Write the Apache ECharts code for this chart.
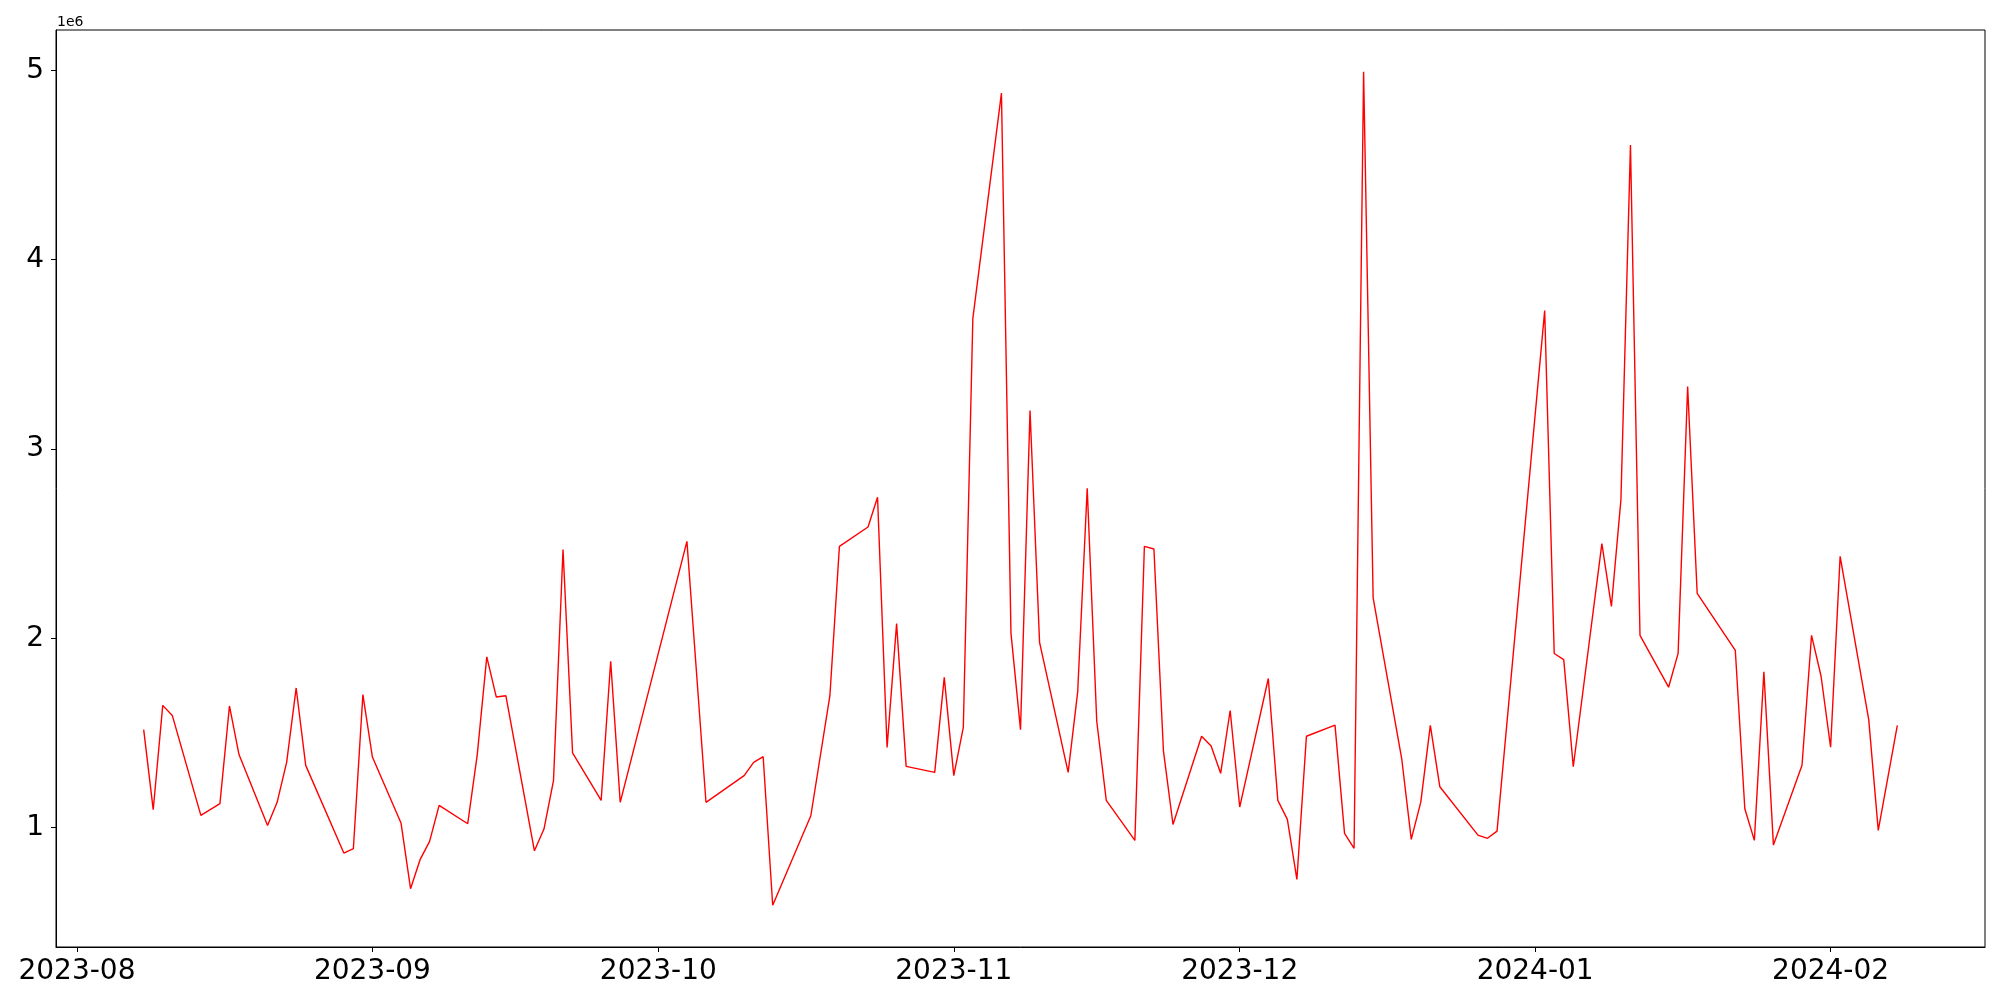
<!DOCTYPE html>
<html>
<head>
<meta charset="utf-8">
<script src="https://cdn.jsdelivr.net/npm/echarts@6/dist/echarts.min.js"></script>
<style>
html,body{margin:0;padding:0;background:#fff;}
#chart{width:2000px;height:1000px;}
</style>
</head>
<body>
<div id="chart"></div>
<script>
const dates = [
'2023-08-08','2023-08-09','2023-08-10','2023-08-11','2023-08-14','2023-08-16','2023-08-17','2023-08-18',
'2023-08-21','2023-08-22','2023-08-23','2023-08-24','2023-08-25','2023-08-29','2023-08-30','2023-08-31',
'2023-09-01','2023-09-04','2023-09-05','2023-09-06','2023-09-07','2023-09-08','2023-09-11','2023-09-12',
'2023-09-13','2023-09-14','2023-09-15','2023-09-18','2023-09-19','2023-09-20','2023-09-21','2023-09-22',
'2023-09-25','2023-09-26','2023-09-27','2023-10-04','2023-10-06','2023-10-10','2023-10-11','2023-10-12',
'2023-10-13','2023-10-17','2023-10-19','2023-10-20','2023-10-23','2023-10-24','2023-10-25','2023-10-26',
'2023-10-27','2023-10-30','2023-10-31','2023-11-01','2023-11-02','2023-11-03','2023-11-06','2023-11-07',
'2023-11-08','2023-11-09','2023-11-10','2023-11-13','2023-11-14','2023-11-15','2023-11-16','2023-11-17',
'2023-11-20','2023-11-21','2023-11-22','2023-11-23','2023-11-24','2023-11-27','2023-11-28','2023-11-29',
'2023-11-30','2023-12-01','2023-12-04','2023-12-05','2023-12-06','2023-12-07','2023-12-08','2023-12-11',
'2023-12-12','2023-12-13','2023-12-14','2023-12-15','2023-12-18','2023-12-19','2023-12-20','2023-12-21',
'2023-12-22','2023-12-26','2023-12-27','2023-12-28','2024-01-02','2024-01-03','2024-01-04','2024-01-05',
'2024-01-08','2024-01-09','2024-01-10','2024-01-11','2024-01-12','2024-01-15','2024-01-16','2024-01-17',
'2024-01-18','2024-01-22','2024-01-23','2024-01-24','2024-01-25','2024-01-26','2024-01-29','2024-01-30',
'2024-01-31','2024-02-01','2024-02-02','2024-02-05','2024-02-06','2024-02-08'
];
const values = [
1518000,1095000,1646000,1593000,1065000,1127000,1643000,1386000,
1012000,1134000,1345000,1738000,1329000,866000,889000,1703000,
1373000,1025000,678000,831000,928000,1118000,1021000,1386000,
1902000,1690000,1697000,878000,993000,1248000,2469000,1395000,
1144000,1879000,1134000,2512000,1134000,1275000,1345000,1375000,
590000,1063000,1697000,2486000,2588000,2745000,1424000,2078000,
1324000,1292000,1794000,1275000,1530000,3690000,4880000,2028000,
1518000,3203000,1979000,1292000,1717000,2793000,1562000,1144000,
933000,2486000,2472000,1404000,1017000,1483000,1431000,1287000,
1619000,1109000,1788000,1144000,1044000,727000,1483000,1542000,
970000,891000,4993000,2214000,1364000,938000,1135000,1540000,
1216000,961000,944000,982000,3731000,1920000,1888000,1322000,
2500000,2169000,2733000,4606000,2016000,1742000,1921000,3330000,
2238000,1937000,1100000,933000,1823000,908000,1330000,2016000,
1800000,1425000,2433000,1571000,986000,1540000
];
const xTickLabels = ['2023-08','2023-09','2023-10','2023-11','2023-12','2024-01','2024-02'];
const yTickValues = [1000000,2000000,3000000,4000000,5000000];

function parseDay(s){ const p=s.split('-').map(Number); return Date.UTC(p[0],p[1]-1,p[2]||1); }
const xs = dates.map(parseDay);
const seriesData = xs.map((t,i)=>[t, values[i]]);
const xMinD = Math.min(...xs), xMaxD = Math.max(...xs);
const xSpan = xMaxD - xMinD;
const vMin = Math.min(...values), vMax = Math.max(...values);
const vSpan = vMax - vMin;
const xTickVals = xTickLabels.map(parseDay);

const FONT = 'DejaVu Sans';
const chart = echarts.init(document.getElementById('chart'), null, {renderer:'canvas'});
chart.setOption({
  animation:false,
  backgroundColor:'#fff',
  grid:{left:56,right:15,top:30,bottom:53,show:true,borderColor:'#000',borderWidth:1,backgroundColor:'transparent'},
  xAxis:{
    type:'value',
    min:xMinD - 0.05*xSpan,
    max:xMaxD + 0.05*xSpan,
    axisLine:{show:true,onZero:false,lineStyle:{color:'#000',width:1}},
    axisTick:{show:true,length:5,lineStyle:{color:'#000',width:1},customValues:xTickVals},
    axisLabel:{show:true,customValues:xTickVals,margin:11,color:'#000',fontFamily:FONT,fontSize:28,
      formatter:function(v){ const i=xTickVals.indexOf(v); return i>=0 ? xTickLabels[i] : ''; }},
    splitLine:{show:false}
  },
  yAxis:{
    type:'value',
    min:vMin - 0.05*vSpan,
    max:vMax + 0.05*vSpan,
    axisLine:{show:true,onZero:false,lineStyle:{color:'#000',width:1}},
    axisTick:{show:true,length:5,lineStyle:{color:'#000',width:1},customValues:yTickValues},
    axisLabel:{show:true,customValues:yTickValues,margin:12,color:'#000',fontFamily:FONT,fontSize:28,
      formatter:function(v){ return String(Math.round(v/1e6)); }},
    splitLine:{show:false}
  },
  graphic:[{type:'text',left:57,top:15,style:{text:'1e6',font:'14px "DejaVu Sans"',fill:'#000'}}],
  series:[{
    type:'line',
    data:seriesData,
    showSymbol:false,
    symbol:'none',
    lineStyle:{color:'#ff0000',width:1.4},
    itemStyle:{color:'#ff0000'}
  }]
});
</script>
</body>
</html>
